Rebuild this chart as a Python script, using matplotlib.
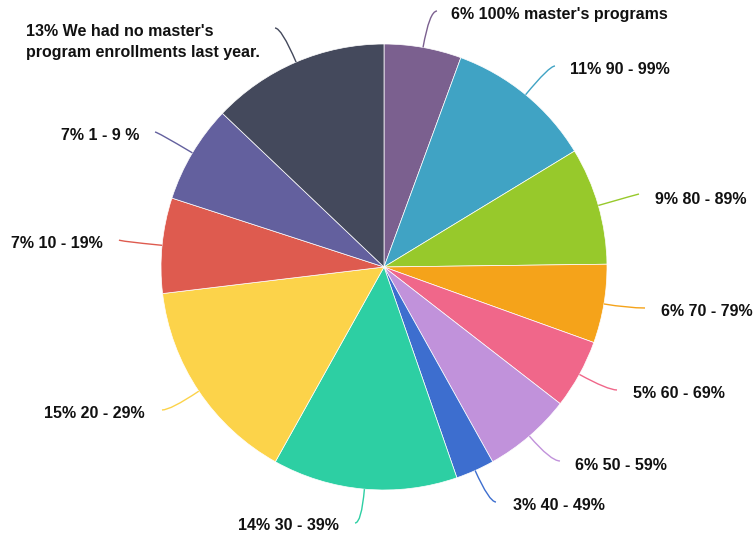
import numpy as np
import matplotlib
matplotlib.use("Agg")
import matplotlib.pyplot as plt
from matplotlib.path import Path
from matplotlib.patches import PathPatch

# slice shares (clockwise from 12 o'clock)
shares = [5.6, 10.7, 8.5, 5.7, 5.0, 6.4, 2.8, 13.4, 15.0, 6.9, 7.1, 12.9]
labels = [
    "6% 100% master's programs",
    "11% 90 - 99%",
    "9% 80 - 89%",
    "6% 70 - 79%",
    "5% 60 - 69%",
    "6% 50 - 59%",
    "3% 40 - 49%",
    "14% 30 - 39%",
    "15% 20 - 29%",
    "7% 10 - 19%",
    "7% 1 - 9 %",
    "13% We had no master's\nprogram enrollments last year.",
]
colors = ["#7B608F", "#40A3C4", "#97C92B", "#F5A31A", "#F0678A", "#C192DB",
          "#3D6ECF", "#2DCFA3", "#FCD34A", "#DE5B4F", "#63609E", "#44495C"]

W, H = 753, 539
cx, cy, R = 384, H - 267, 223

# label layout in pixels from top-left: leader end, text anchor, alignment
leader_end = [(437, 11), (555, 66), (639, 194), (645, 308), (617, 390), (560, 461),
              (496, 502), (355, 523), (162, 410), (119, 240), (155, 132), (275, 28)]
text_pos = [(451, 14), (570, 70), (655, 199), (661, 312), (633, 393), (575, 465),
            (513, 505), (339, 526), (145, 413), (103, 244), (139, 136), (260, 42)]
text_ha = ["left"] * 7 + ["right"] * 5

fig = plt.figure(figsize=(W / 100, H / 100), dpi=100)
ax = fig.add_axes([0, 0, 1, 1])

wedges, _ = ax.pie(shares, colors=colors, startangle=90, counterclock=False,
                   center=(cx, cy), radius=R,
                   wedgeprops=dict(edgecolor="white", linewidth=0.5))
ax.set_xlim(0, W)
ax.set_ylim(0, H)
ax.set_aspect("equal")
ax.axis("off")

for w, col, lab, end, tp, ha in zip(wedges, colors, labels, leader_end, text_pos, text_ha):
    mid = np.deg2rad((w.theta1 + w.theta2) / 2)
    d = np.array([np.cos(mid), np.sin(mid)])
    p0 = np.array([cx, cy]) + R * d
    p2 = np.array([end[0], H - end[1]])
    dist = np.hypot(*(p2 - p0))
    if abs(d[1]) > 1e-3:
        k = (p2[1] - p0[1]) / d[1]
    else:
        k = dist
    k = min(max(k, 0), dist)
    p1 = p0 + k * d
    path = Path([p0, p1, p2], [Path.MOVETO, Path.CURVE3, Path.CURVE3])
    ax.add_patch(PathPatch(path, facecolor="none", edgecolor=col, lw=1.0))
    ax.text(tp[0], H - tp[1], lab, ha=ha, va="center", multialignment="left",
            fontsize=11.5, fontweight="bold", family="Liberation Sans",
            color="#111111", linespacing=1.55)

plt.savefig("out.png", dpi=100)
